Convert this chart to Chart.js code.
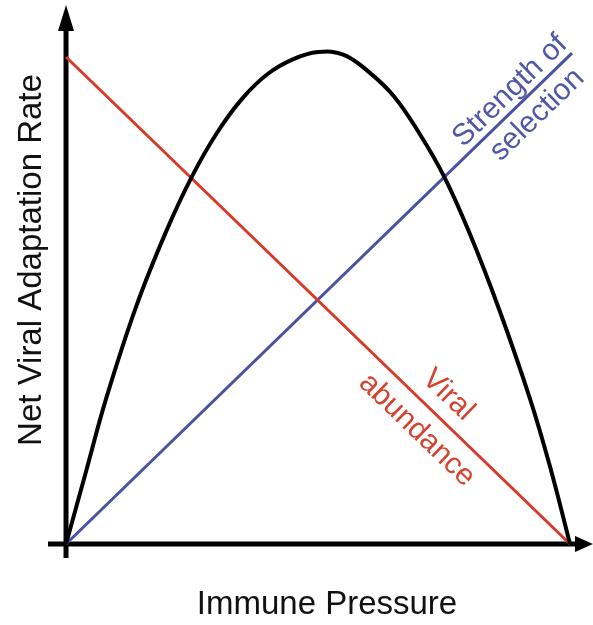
<!DOCTYPE html>
<html>
<head>
<meta charset="utf-8">
<script src="https://cdn.jsdelivr.net/npm/chart.js@4"></script>
<style>
    html, body { margin: 0; padding: 0; background: #fff; }
    #wrap { width: 593px; height: 625px; }
</style>
</head>
<body>
<div id="wrap"><canvas id="chart" width="593" height="625"></canvas></div>
<script>
// immune pressure (x) vs rate (y), both in arbitrary 0-100 units
var curveX = [0, 4, 8, 14, 20, 25, 30, 35, 40, 45, 50, 55, 60, 65, 70, 75, 80, 86, 92, 96, 100];
var curveY = [0, 15, 30, 49, 64.5, 75.5, 84.5, 91.5, 96.5, 99.5, 101, 100.5, 97, 92, 84.5, 75.5, 64, 48, 30, 16, 0];

var viralX = [0, 100];
var viralY = [100, 0];

var selectionX = [0, 100.4];
var selectionY = [0, 100.8];

var xTitle = 'Immune Pressure';
var yTitle = 'Net Viral Adaptation Rate';

// labels written along the lines: text, x, y, which line they follow
var lineLabels = [
    { text: 'Strength of', x: 88.1, y: 93.0, line: 'selection', color: '#5057a6' },
    { text: 'selection', x: 93.5, y: 88.1, line: 'selection', color: '#5057a6' },
    { text: 'Viral', x: 75.8, y: 30.6, line: 'viral', color: '#d5432f' },
    { text: 'abundance', x: 69.6, y: 23.4, line: 'viral', color: '#d5432f' }
];

function toPoints(xs, ys) {
    var pts = [];
    for (var i = 0; i < xs.length; i++) {
        pts.push({ x: xs[i], y: ys[i] });
    }
    return pts;
}

var FONT = '"Liberation Sans", Arial, Helvetica, sans-serif';

// draws the arrowed axes, axis titles and the slanted line labels
var sketchPlugin = {
    id: 'sketch',
    beforeDatasetsDraw: function (chart) {
        var ctx = chart.ctx;
        var xs = chart.scales.x, ys = chart.scales.y;
        var ox = xs.getPixelForValue(0), oy = ys.getPixelForValue(0);
        var right = chart.chartArea.right;
        var top = chart.chartArea.top + 5;
        ctx.save();
        ctx.strokeStyle = '#000';
        ctx.fillStyle = '#000';
        ctx.lineWidth = 5;
        ctx.beginPath();
        ctx.moveTo(ox - 18, oy);
        ctx.lineTo(right - 12, oy);
        ctx.moveTo(ox, oy + 14);
        ctx.lineTo(ox, top + 20);
        ctx.stroke();
        // arrow heads
        ctx.beginPath();
        ctx.moveTo(right, oy);
        ctx.lineTo(right - 18, oy - 8);
        ctx.lineTo(right - 18, oy + 8);
        ctx.closePath();
        ctx.fill();
        ctx.beginPath();
        ctx.moveTo(ox, top);
        ctx.lineTo(ox - 8, top + 26);
        ctx.lineTo(ox + 8, top + 26);
        ctx.closePath();
        ctx.fill();
        ctx.restore();
    },
    afterDatasetsDraw: function (chart) {
        var ctx = chart.ctx;
        var xs = chart.scales.x, ys = chart.scales.y;
        ctx.save();
        ctx.fillStyle = '#111';
        ctx.font = '33px ' + FONT;
        ctx.textAlign = 'center';
        ctx.textBaseline = 'middle';
        ctx.fillText(xTitle, 327, 605);
        ctx.translate(32, 260);
        ctx.rotate(-Math.PI / 2);
        ctx.fillText(yTitle, 0, 0);
        ctx.restore();

        var angles = {
            viral: Math.atan2(ys.getPixelForValue(viralY[1]) - ys.getPixelForValue(viralY[0]),
                xs.getPixelForValue(viralX[1]) - xs.getPixelForValue(viralX[0])),
            selection: Math.atan2(ys.getPixelForValue(selectionY[1]) - ys.getPixelForValue(selectionY[0]),
                xs.getPixelForValue(selectionX[1]) - xs.getPixelForValue(selectionX[0]))
        };
        for (var i = 0; i < lineLabels.length; i++) {
            var l = lineLabels[i];
            ctx.save();
            ctx.translate(xs.getPixelForValue(l.x), ys.getPixelForValue(l.y));
            ctx.rotate(angles[l.line]);
            ctx.font = '30px ' + FONT;
            ctx.fillStyle = l.color;
            ctx.textAlign = 'center';
            ctx.textBaseline = 'middle';
            ctx.fillText(l.text, 0, 0);
            ctx.restore();
        }
    }
};

new Chart(document.getElementById('chart'), {
    type: 'scatter',
    data: {
        datasets: [{
            label: 'Net viral adaptation',
            data: toPoints(curveX, curveY),
            showLine: true,
            borderColor: '#000',
            borderWidth: 4,
            pointRadius: 0,
            tension: 0.4
        }, {
            label: 'Viral abundance',
            data: toPoints(viralX, viralY),
            showLine: true,
            borderColor: '#d63a28',
            borderWidth: 3,
            pointRadius: 0
        }, {
            label: 'Strength of selection',
            data: toPoints(selectionX, selectionY),
            showLine: true,
            borderColor: '#4b52a0',
            borderWidth: 3,
            pointRadius: 0
        }]
    },
    options: {
        responsive: false,
        animation: false,
        layout: { padding: 0 },
        plugins: {
            legend: { display: false },
            tooltip: { enabled: false }
        },
        scales: {
            x: { type: 'linear', display: false, min: -13.1, max: 104.56 },
            y: { type: 'linear', display: false, min: -16.63, max: 111.7 }
        }
    },
    plugins: [sketchPlugin]
});
</script>
</body>
</html>
